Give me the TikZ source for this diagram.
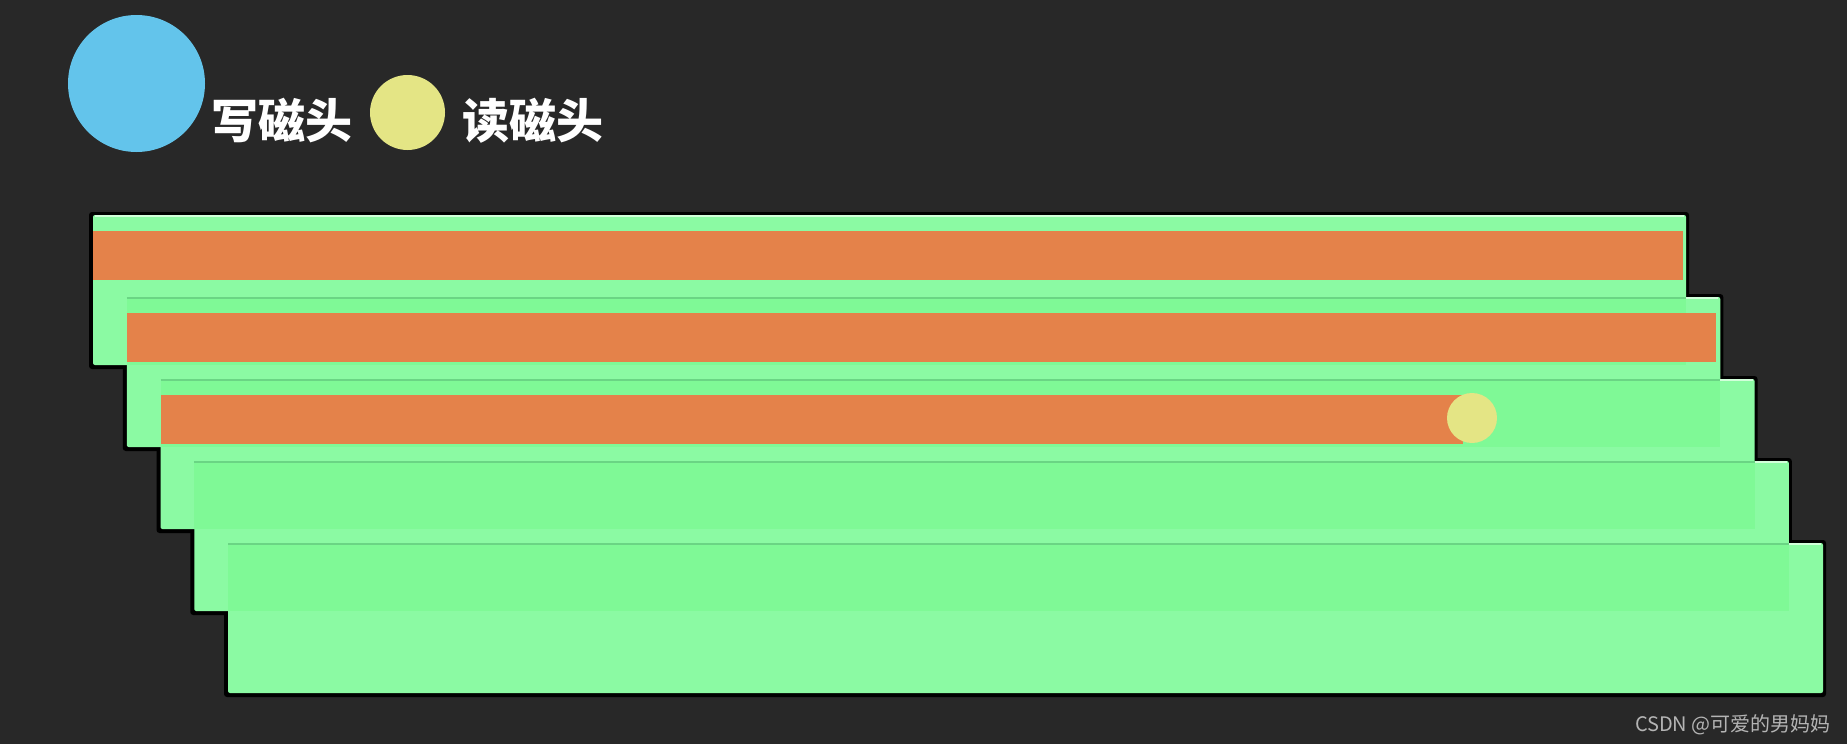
\documentclass[tikz,border=0pt]{standalone}
\usepackage{fontspec}
\newfontfamily\cjk{Noto Sans CJK SC}
\usetikzlibrary{positioning}
\definecolor{bgdark}{HTML}{282828}
\definecolor{platelight}{HTML}{8BFAA3}
\definecolor{platedark}{HTML}{7FF996}
\definecolor{edgegreen}{HTML}{6AD584}
\definecolor{edgepale}{HTML}{D2FFDA}
\definecolor{trackorange}{HTML}{E4824A}
\definecolor{writeblue}{HTML}{63C4EB}
\definecolor{readyellow}{HTML}{E4E585}
\definecolor{markgray}{HTML}{B4B4B4}

\begin{document}
\begin{tikzpicture}[x=1pt,y=-1pt,
    plate/.style={fill=platelight,rounded corners=2pt},
    overlap/.style={fill=platedark},
    track/.style={fill=trackorange},
    head/.style={circle,inner sep=0pt},
    headlabel/.style={text=white,inner sep=0pt,anchor=west,font=\cjk\bfseries\fontsize{47}{47}\selectfont}]
  \fill[bgdark] (0,0) rectangle (1847,744);
  % black outline round the stack
  \foreach \i in {0,...,4}{
    \fill[black,rounded corners=3pt] ({89+33.75*\i},{212+82*\i}) rectangle ({1689+34.25*\i},{369+82*\i});
  }
  % platters
  \foreach \i in {0,...,4}{
    \pgfmathsetmacro\l{93+33.75*\i}
    \pgfmathsetmacro\r{1686+34.25*\i}
    \pgfmathsetmacro\t{215+82*\i}
    \pgfmathsetmacro\pr{1686+34.25*(\i-1)}
    \fill[plate] (\l,\t) rectangle (\r,\t+150);
    \ifnum\i>0
      \fill[overlap] (\l,\t) rectangle (\pr,\t+68);
      \draw[edgepale,line width=1.5pt] (\pr,\t+1) -- (\r-2,\t+1);
      \draw[edgegreen,line width=2.5pt] (\l,\t+1) -- (\pr,\t+1);
    \else
      \draw[edgepale,line width=1.5pt] (\l+2,\t+1) -- (\r-2,\t+1);
    \fi
  }
  % written tracks
  \foreach \i/\e in {0/1683,1/1716,2/1463}{
    \fill[track] ({93+33.75*\i},{231+82*\i}) rectangle (\e,{280+82*\i});
  }
  \node[head,fill=readyellow,minimum size=50pt] (rdot) at (1472,418) {};
  % legend
  \node[head,fill=writeblue,minimum size=137pt] (whead) at (136.5,83.5) {};
  \node[headlabel] (wlabel) at (211,121) {写磁头};
  \node[head,fill=readyellow,minimum size=75pt] (rhead) at (407.5,112.5) {};
  \node[headlabel] (rlabel) at (462,121) {读磁头};
  \node[text=markgray,anchor=east,inner sep=0pt,font=\cjk\fontsize{20}{20}\selectfont] (mark) at (1831,725) {CSDN @可爱的男妈妈};
\end{tikzpicture}
\end{document}
